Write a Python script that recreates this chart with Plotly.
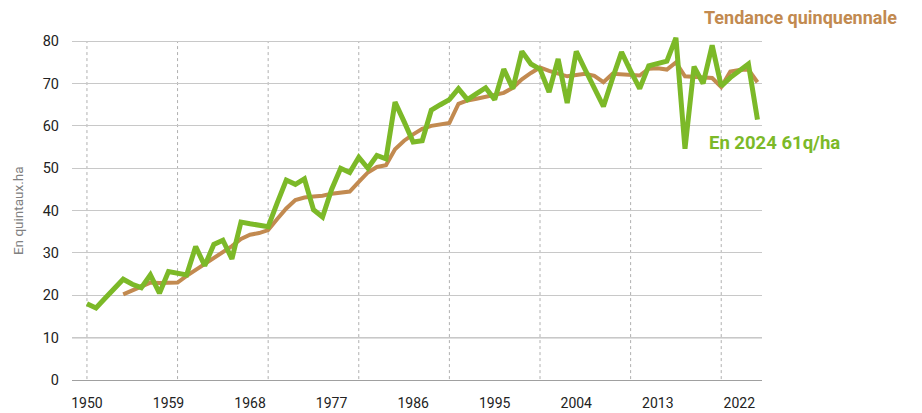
import plotly.graph_objects as go

years = list(range(1950, 2025))
rendement = [18.0, 17.0, 19.3, 21.6, 23.8, 22.6, 21.8, 24.8, 20.5, 25.6,
             25.2, 24.8, 31.5, 27.0, 32.0, 33.0, 28.6, 37.3, 36.9, 36.6,
             36.2, 41.8, 47.2, 46.2, 47.5, 40.2, 38.5, 45.0, 50.0, 49.0,
             52.6, 50.0, 53.0, 52.2, 65.6, 61.0, 56.2, 56.5, 63.7, 65.0,
             66.2, 68.8, 66.2, 67.6, 69.0, 66.2, 73.4, 68.8, 77.6, 74.6,
             73.4, 68.0, 75.8, 65.4, 77.6, 73.2, 68.8, 64.6, 71.2, 77.4,
             73.0, 68.8, 74.2, 74.8, 75.3, 80.8, 54.6, 74.0, 70.0, 79.0,
             69.4, 71.4, 73.0, 74.6, 61.5]

trend_years = list(range(1954, 2025))
tendance = [20.2, 21.2, 22.2, 23.0, 22.9, 23.0,
            23.0, 24.6, 26.0, 27.4, 28.8, 30.0, 31.6, 33.3, 34.3, 34.7,
            35.4, 38.0, 40.5, 42.5, 43.1, 43.3, 43.5, 44.0, 44.2, 44.5,
            46.8, 49.0, 50.3, 50.7, 54.5, 56.5, 58.0, 59.3, 60.0, 60.3,
            60.7, 65.2, 66.0, 66.4, 66.8, 67.2, 67.8, 69.0, 71.0, 72.5,
            73.8, 73.0, 72.3, 71.7, 72.0, 72.3, 71.8, 70.3, 72.3, 72.1,
            72.0, 71.9, 73.5, 73.6, 73.3, 75.0, 71.7, 71.5, 71.4, 71.3,
            69.2, 72.8, 73.2, 73.3, 70.3]

tick_years = [1950, 1959, 1968, 1977, 1986, 1995, 2004, 2013, 2022]
grid_years = [1950, 1960, 1970, 1980, 1990, 2000, 2010, 2020]

GREEN = "#7cb928"
BROWN = "#c28a50"

fig = go.Figure()
fig.add_trace(go.Scatter(x=trend_years, y=tendance, mode="lines",
                         line=dict(color=BROWN, width=4), showlegend=False))
fig.add_trace(go.Scatter(x=years, y=rendement, mode="lines",
                         line=dict(color=GREEN, width=5), showlegend=False))

for gy in grid_years:
    fig.add_shape(type="line", xref="x", yref="y", x0=gy, x1=gy, y0=-1.2, y1=80,
                  line=dict(color="#b0b0b0", width=1, dash="dot"), layer="below")
fig.add_shape(type="line", xref="paper", yref="y", x0=0, x1=1, y0=10, y1=10,
              line=dict(color="#222222", width=1), layer="below")

fig.add_annotation(text="Tendance quinquennale", xref="paper", yref="paper",
                   x=0.913, y=1.008, xanchor="left", yanchor="middle",
                   showarrow=False, font=dict(family="Roboto", size=18, color=BROWN, weight="bold"))
fig.add_annotation(text="En 2024 61q/ha", xref="paper", yref="paper",
                   x=0.92, y=0.658, xanchor="left", yanchor="middle",
                   showarrow=False, font=dict(family="Roboto", size=18.5, color=GREEN, weight="bold"))
fig.add_annotation(text="En quintaux.ha", xref="paper", yref="paper",
                   x=-0.0783, y=0.472, xanchor="center", yanchor="middle", textangle=-90,
                   showarrow=False, font=dict(family="Roboto", size=13.5, color="#808080"))

# page body has an 8px margin: shrink the figure and margins accordingly
fig.update_layout(
    width=914, height=405,
    margin=dict(l=64, r=160, t=12, b=33),
    paper_bgcolor="white", plot_bgcolor="white",
    font=dict(family="Roboto", color="#222222"),
    xaxis=dict(range=[1948.35, 2024.5], tickvals=tick_years, ticktext=[str(t) for t in tick_years],
               showgrid=False, zeroline=False, showline=True, linecolor="#a0a0a0", linewidth=1,
               ticks="", ticklabelstandoff=10, automargin=False,
               tickfont=dict(size=14, color="#222222")),
    yaxis=dict(range=[0, 85], tickvals=[0, 10, 20, 30, 40, 50, 60, 70, 80],
               showgrid=True, gridcolor="#c8c8c8", gridwidth=1, zeroline=False,
               ticks="", ticklabelstandoff=12, automargin=False,
               tickfont=dict(size=14.5, color="#222222")),
)

fig.write_html("out.html")
